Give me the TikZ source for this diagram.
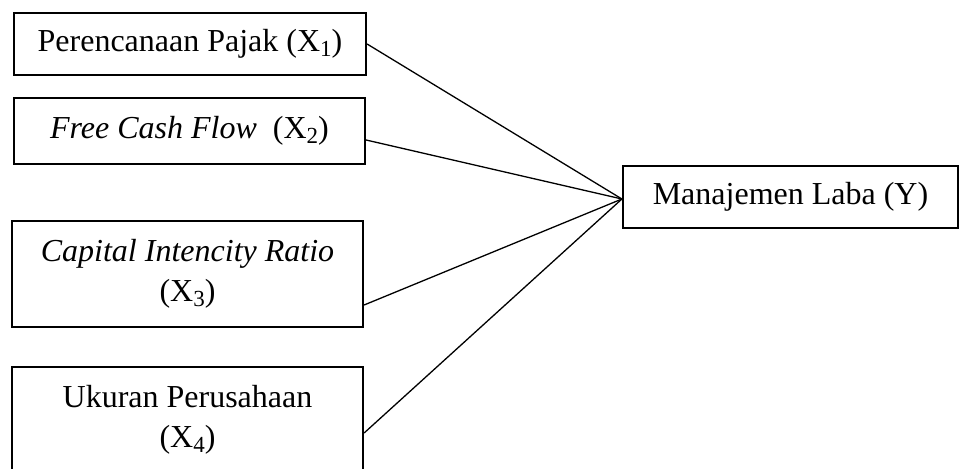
\documentclass[tikz,border=0pt]{standalone}
\usepackage{fontspec}
\setmainfont{Liberation Serif}
% subscript digit as set in the variable labels
\newcommand{\varsub}[1]{\raisebox{-5pt}{\fontsize{23}{23}\selectfont #1}}
\begin{document}
\begin{tikzpicture}[x=1pt,y=-1pt,
  varbox/.style={draw=black, line width=2.2pt, rectangle, align=center,
    inner sep=0pt, font=\fontsize{32}{40}\selectfont},
  link/.style={draw=black, line width=1.3pt}]
  \useasboundingbox (0,0) rectangle (960,468);
  \clip (0,0) rectangle (960,468);

  % independent variables
  \node[varbox, minimum width=352pt, minimum height=62pt] (x1) at (190,44)
    {Perencanaan Pajak (X\varsub{1})};
  \node[varbox, minimum width=351pt, minimum height=66pt] (x2) at (189.5,131)
    {\textit{Free Cash Flow}\ \ (X\varsub{2})};
  \node[varbox, minimum width=351pt, minimum height=106pt] (x3) at (187.5,274)
    {\textit{Capital Intencity Ratio}\\(X\varsub{3})};
  \node[varbox, minimum width=351pt, minimum height=106pt] (x4) at (187.5,420)
    {Ukuran Perusahaan\\(X\varsub{4})};

  % dependent variable
  \node[varbox, minimum width=335pt, minimum height=62pt] (y) at (790.5,197)
    {Manajemen Laba (Y)};

  \coordinate (hub) at ([yshift=-2pt]y.west);
  \draw[link] (x1.east) -- (hub);
  \draw[link] ([yshift=-9pt]x2.east) -- (hub);
  \draw[link] ([yshift=-31pt]x3.east) -- (hub);
  \draw[link] ([yshift=-13pt]x4.east) -- (hub);
\end{tikzpicture}
\end{document}
